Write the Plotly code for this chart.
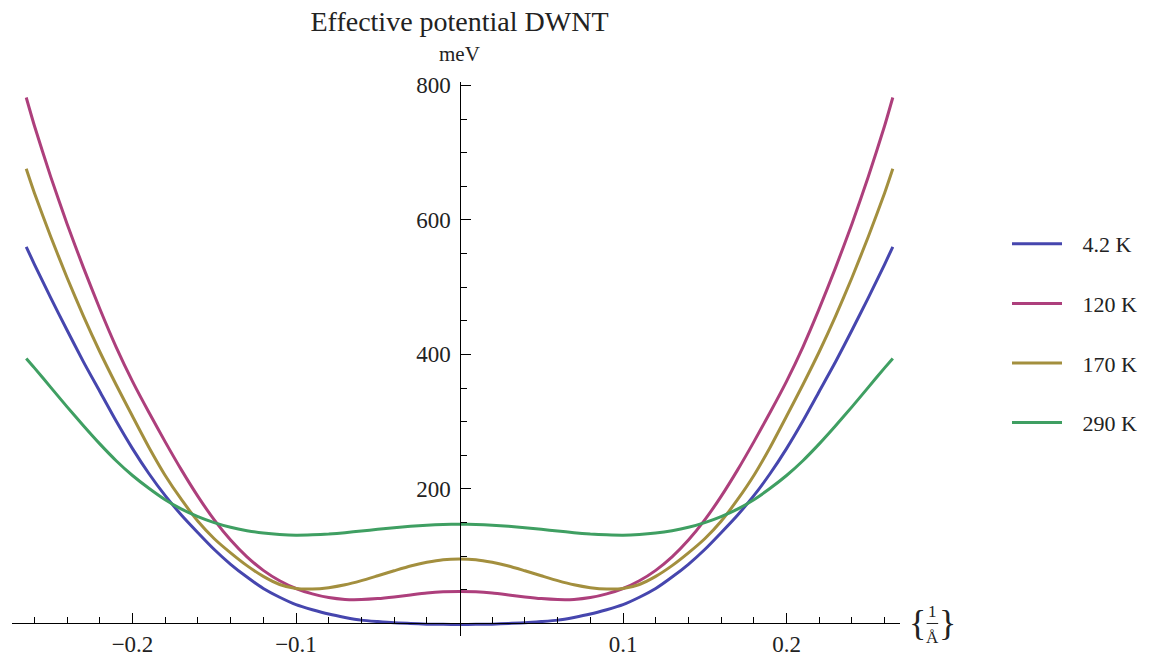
import plotly.graph_objects as go

# Sample positions along the 1/Å axis
x_vals = [-0.265, -0.26, -0.25, -0.24, -0.23, -0.22, -0.21, -0.20, -0.19, -0.18, -0.17, -0.16, -0.15,
          -0.14, -0.13, -0.12, -0.11, -0.10, -0.09, -0.08, -0.07, -0.06, -0.05, -0.04, -0.03, -0.02,
          -0.01, 0.0, 0.01, 0.02, 0.03, 0.04, 0.05, 0.06, 0.07, 0.08, 0.09, 0.10, 0.11, 0.12, 0.13,
          0.14, 0.15, 0.16, 0.17, 0.18, 0.19, 0.20, 0.21, 0.22, 0.23, 0.24, 0.25, 0.26, 0.265]

# Effective potential (meV) at each temperature
v_4k = [560, 534, 484, 436, 389, 345, 301, 260, 223, 190, 161, 135, 110, 88, 69, 52, 39, 28, 20.5, 14,
        9, 5, 2.8, 1, 0, -1, -1.3, -1.5, -1.3, -1, 0, 1, 2.8, 5, 9, 14, 20.5, 28, 39, 52, 69, 88, 110,
        135, 161, 190, 223, 260, 301, 345, 389, 436, 484, 534, 560]
v_120k = [782, 740, 664, 594, 529, 468, 411, 360, 314, 270, 228, 189, 154, 124, 99, 79, 63.5, 52, 44,
          38.5, 35.8, 35.6, 37, 39.5, 42.5, 45.3, 47, 47.5, 47, 45.3, 42.5, 39.5, 37, 35.6, 35.8, 38.5,
          44, 52, 63.5, 79, 99, 124, 154, 189, 228, 270, 314, 360, 411, 468, 529, 594, 664, 740, 782]
v_170k = [676, 640, 575, 514, 457, 404, 355, 308, 262, 220, 184, 152, 126, 105, 86, 70, 58, 52, 51.2,
          53.3, 57.5, 63.7, 71, 78.4, 85.5, 91, 94.9, 96, 94.9, 91, 85.5, 78.4, 71, 63.7, 57.5, 53.3,
          51.2, 52, 58, 70, 86, 105, 126, 152, 184, 220, 262, 308, 355, 404, 457, 514, 575, 640, 676]
v_290k = [394, 380, 351, 322, 294, 267, 242, 220, 201, 184, 170, 159, 150, 143, 138, 134.5, 132.3,
          131.3, 131.8, 133, 135, 137.5, 140, 142.5, 144.6, 146.2, 147.2, 147.5, 147.2, 146.2, 144.6,
          142.5, 140, 137.5, 135, 133, 131.8, 131.3, 132.3, 134.5, 138, 143, 150, 159, 170, 184, 201,
          220, 242, 267, 294, 322, 351, 380, 394]

series_names = ["4.2 K", "120 K", "170 K", "290 K"]
series_values = [v_4k, v_120k, v_170k, v_290k]
series_colors = ["#4646ae", "#ad3f7c", "#a38f3e", "#3f9f62"]

# Axis ticks
x_major = [-0.2, -0.1, 0.1, 0.2]
x_major_text = ["\u22120.2", "\u22120.1", "0.1", "0.2"]
y_major = [200, 400, 600, 800]
y_major_text = ["200", "400", "600", "800"]

x_range = [-0.2737, 0.2694]
y_range = [-18.6, 805]

x_minor = [round(-0.26 + 0.02 * i, 2) for i in range(27)]
x_minor = [v for v in x_minor if all(abs(v - m) > 1e-9 for m in x_major) and abs(v) > 1e-9]
y_minor = [50 * i for i in range(1, 16) if (50 * i) % 200 != 0]

serif = "Liberation Serif"
ink = "#222"

fig = go.Figure()
for name, vals, col in zip(series_names, series_values, series_colors):
    fig.add_trace(go.Scatter(
        x=x_vals, y=vals, mode="lines", name="\u2002\u2009" + name, legendgroup=name,
        line=dict(color=col, width=3, shape="spline", smoothing=0.6),
    ))

# axes cross at the origin
x_axis_pos = (0 - y_range[0]) / (y_range[1] - y_range[0])
y_axis_pos = (0 - x_range[0]) / (x_range[1] - x_range[0])

axis_common = dict(showline=True, linecolor="black", linewidth=1.4,
                   ticks="inside", ticklen=10, tickwidth=1.3, tickcolor="black",
                   tickmode="array", showgrid=False, zeroline=False, automargin=False,
                   tickfont=dict(family=serif, size=23, color=ink))

fig.update_layout(
    width=1171, height=657, autosize=False,
    margin=dict(l=12, r=271, t=82, b=21),
    paper_bgcolor="white", plot_bgcolor="white",
    font=dict(family=serif, size=22, color=ink),
    title=dict(text="Effective potential DWNT", x=y_axis_pos, xref="paper", xanchor="center",
               y=1 - 21 / 657, yref="container", yanchor="middle",
               font=dict(family=serif, size=28, color=ink)),
    xaxis=dict(range=x_range, anchor="free", position=x_axis_pos,
               tickvals=x_major, ticktext=x_major_text, ticklabelstandoff=0,
               minor=dict(tickmode="array", tickvals=x_minor, ticks="inside", ticklen=6,
                          tickwidth=1.2, tickcolor="black", showgrid=False),
               **axis_common),
    yaxis=dict(range=y_range, anchor="free", position=y_axis_pos,
               tickvals=y_major, ticktext=y_major_text, ticklabelstandoff=4,
               minor=dict(tickmode="array", tickvals=y_minor, ticks="inside", ticklen=6,
                          tickwidth=1.2, tickcolor="black", showgrid=False),
               **axis_common),
    legend=dict(x=1.1205, xanchor="left", y=0.546, yanchor="middle",
                font=dict(family=serif, size=22, color=ink),
                tracegroupgap=28, itemwidth=50, bgcolor="rgba(0,0,0,0)"),
    showlegend=True,
)

# axis labels
fig.add_annotation(text="meV", xref="paper", yref="paper", x=y_axis_pos, y=1.0505,
                   showarrow=False, font=dict(family=serif, size=21, color=ink),
                   xanchor="center", yanchor="middle")
fig.add_annotation(text="{", xref="paper", yref="paper", x=1.020, y=x_axis_pos,
                   showarrow=False, font=dict(family=serif, size=36, color=ink),
                   xanchor="center", yanchor="middle")
fig.add_annotation(text="1", xref="paper", yref="paper", x=1.0365, y=x_axis_pos + 0.022,
                   showarrow=False, font=dict(family=serif, size=17, color=ink),
                   xanchor="center", yanchor="middle")
fig.add_annotation(text="Å", xref="paper", yref="paper", x=1.0365, y=x_axis_pos - 0.026,
                   showarrow=False, font=dict(family=serif, size=17, color=ink),
                   xanchor="center", yanchor="middle")
fig.add_annotation(text="}", xref="paper", yref="paper", x=1.053, y=x_axis_pos,
                   showarrow=False, font=dict(family=serif, size=36, color=ink),
                   xanchor="center", yanchor="middle")
fig.add_shape(type="line", xref="paper", yref="paper",
              x0=1.030, x1=1.043, y0=x_axis_pos, y1=x_axis_pos,
              line=dict(color=ink, width=1))

fig.write_html("out.html")
